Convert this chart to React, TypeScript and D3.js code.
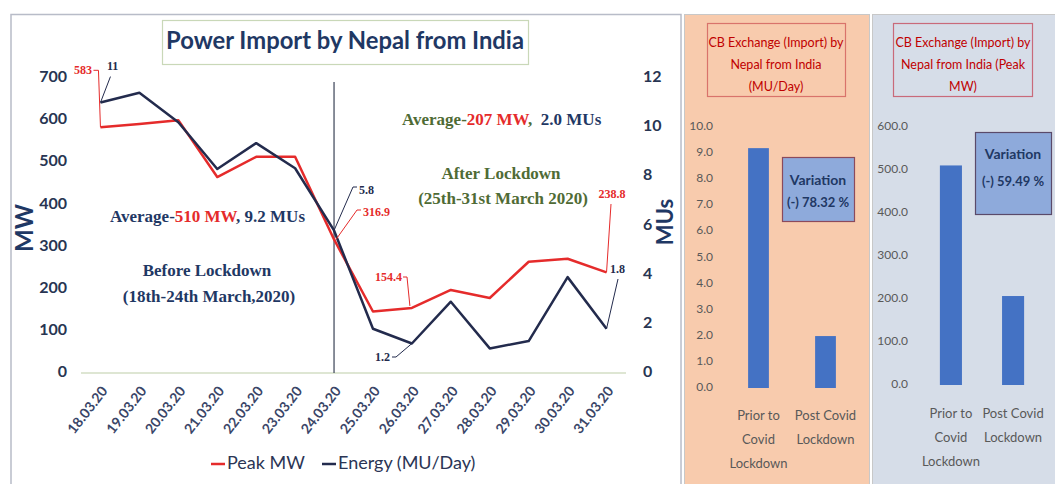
import React from 'react';
import * as d3 from 'd3';

const dates = ['18.03.20','19.03.20','20.03.20','21.03.20','22.03.20','23.03.20','24.03.20','25.03.20','26.03.20','27.03.20','28.03.20','29.03.20','30.03.20','31.03.20'];
const peakMW = [583, 591, 600, 465, 513, 513, 316.9, 146, 154.4, 197, 178, 264, 271, 238.8];
const energyMU = [11, 11.4, 10.2, 8.3, 9.35, 8.33, 5.8, 1.8, 1.2, 2.9, 1.0, 1.3, 3.9, 1.8];
const mwTicks = [0, 100, 200, 300, 400, 500, 600, 700];
const muTicks = [0, 2, 4, 6, 8, 10, 12];

const barCats = ['Prior to Covid Lockdown', 'Post Covid Lockdown'];
const barMU = [9.19, 1.99];
const barMW = [510.6, 206.9];
const muBarTicks = [0, 1, 2, 3, 4, 5, 6, 7, 8, 9, 10];
const mwBarTicks = [0, 100, 200, 300, 400, 500, 600];

const NAVY = '#1f3864';
const RED = '#e52b2b';
const LINE_NAVY = '#232b4d';
const GREEN = '#4f6b35';
const GRAY = '#595959';
const SANS = 'Lato, "Open Sans", sans-serif';
const SERIF = '"Liberation Serif", "DejaVu Serif", serif';

export default function App() {
  const x = d3.scaleBand<string>().domain(dates).range([81, 626]);
  const cx = (i: number) => (x(dates[i]) as number) + x.bandwidth() / 2;
  const yL = d3.scaleLinear().domain([0, 700]).range([373, 78]);
  const yR = d3.scaleLinear().domain([0, 12]).range([373, 78]);

  const peakLine = d3.line<number>().x((_, i) => cx(i)).y(d => yL(d))(peakMW) as string;
  const energyLine = d3.line<number>().x((_, i) => cx(i)).y(d => yR(d))(energyMU) as string;

  const x1 = d3.scaleBand<string>().domain(barCats).range([725, 859]).paddingInner(0.69).paddingOuter(0.345);
  const y1 = d3.scaleLinear().domain([0, 10]).range([388, 127]);
  const x2 = d3.scaleBand<string>().domain(barCats).range([920, 1044]).paddingInner(0.645).paddingOuter(0.32);
  const y2 = d3.scaleLinear().domain([0, 600]).range([385, 127]);

  const catLines = [['Prior to', 'Covid', 'Lockdown'], ['Post Covid', 'Lockdown']];

  const vx = cx(6);
  const p = (i: number) => [cx(i), yL(peakMW[i])];
  const e = (i: number) => [cx(i), yR(energyMU[i])];

  const dl = (key: string, text: string, color: string, tx: number, ty: number, anchor: string, path: string) => (
    <g key={key}>
      <path d={path} fill="none" stroke={color} strokeWidth={1} />
      <text x={tx} y={ty} fill={color} fontFamily={SERIF} fontWeight="bold" fontSize={12} textAnchor={anchor} dominantBaseline="middle">{text}</text>
    </g>
  );

  const [p0x, p0y] = p(0);
  const [e0x, e0y] = e(0);
  const [p6x, p6y] = p(6);
  const [e6x, e6y] = e(6);
  const [p8x, p8y] = p(8);
  const [e8x, e8y] = e(8);
  const [p13x, p13y] = p(13);
  const [e13x, e13y] = e(13);

  return (
    <svg width={1055} height={484} style={{ position: 'absolute', left: 0, top: 0 }}>
      <rect x={0} y={0} width={1055} height={484} fill="#fff" />
      <rect x={11} y={14.5} width={670} height={480} fill="#fff" stroke="#b8bcc8" strokeWidth={1.5} />
      <rect x={162.5} y={20.5} width={366} height={44} fill="#fff" stroke="#c9d8b8" strokeWidth={1.2} />
      <text x={345} y={43} textAnchor="middle" dominantBaseline="middle" fill={NAVY} fontFamily={SANS} fontWeight="bold" fontSize={25} textLength={358} lengthAdjust="spacingAndGlyphs">Power Import by Nepal from India</text>

      <line x1={81} x2={626} y1={373} y2={373} stroke="#d3dec5" strokeWidth={1.5} />
      {mwTicks.map(t => (
        <text key={'l' + t} x={67} y={yL(t)} textAnchor="end" dominantBaseline="middle" fill="#283552" fontFamily={SANS} fontWeight="bold" fontSize={16}>{t}</text>
      ))}
      {muTicks.map(t => (
        <text key={'r' + t} x={643} y={yR(t)} textAnchor="start" dominantBaseline="middle" fill="#283552" fontFamily={SANS} fontWeight="bold" fontSize={16}>{t}</text>
      ))}
      <text transform="translate(27,228) rotate(-90)" textAnchor="middle" dominantBaseline="middle" fill={NAVY} fontFamily={SANS} fontWeight="bold" fontSize={24}>MW</text>
      <text transform="translate(667,222) rotate(-90)" textAnchor="middle" dominantBaseline="middle" fill={NAVY} fontFamily={SANS} fontWeight="bold" fontSize={22}>MUs</text>

      {dates.map((d, i) => (
        <text key={d} transform={`translate(${cx(i) + 5},${389}) rotate(-52)`} textAnchor="end" dominantBaseline="middle" fill="#3a4668" fontFamily={SANS} fontWeight="bold" fontSize={14}>{d}</text>
      ))}

      <line x1={vx} x2={vx} y1={82} y2={373} stroke="#3a4256" strokeWidth={1.2} />

      <path d={peakLine} fill="none" stroke={RED} strokeWidth={2.5} strokeLinejoin="round" />
      <path d={energyLine} fill="none" stroke={LINE_NAVY} strokeWidth={2.5} strokeLinejoin="round" />

      {dl('a', String(peakMW[0]), RED, 92, p0y - 56, 'end', `M${p0x - 7},${p0y - 57} L${p0x - 2},${p0y - 57} L${p0x},${p0y}`)}
      {dl('b', String(energyMU[0]), LINE_NAVY, 107, e0y - 35, 'start', `M${e0x + 10},${e0y - 26} L${e0x},${e0y}`)}
      {dl('c', String(energyMU[6]), LINE_NAVY, 359, 191, 'start', `M${357},${187} L${353},${187} L${e6x},${e6y}`)}
      {dl('d', String(peakMW[6]), RED, 363, 213, 'start', `M${361},${210} L${357},${210} L${p6x + 2},${p6y}`)}
      {dl('e', String(peakMW[8]), RED, 402, 278, 'end', `M${403},${277} L${407},${277} L${p8x - 2},${p8y - 2}`)}
      {dl('f', String(energyMU[8]), LINE_NAVY, 390, 358, 'end', `M${392},${357} L${396},${357} L${e8x},${e8y}`)}
      {dl('g', String(peakMW[13]), RED, 612, 195, 'middle', `M${611},${204} L${p13x},${p13y}`)}
      {dl('h', String(energyMU[13]), LINE_NAVY, 610, 270, 'start', `M${618},${279} L${e13x},${e13y}`)}

      <text x={110} y={218} dominantBaseline="middle" fontFamily={SERIF} fontWeight="bold" fontSize={17} fill={NAVY}>
        Average-<tspan fill={RED}>510 MW</tspan>, 9.2 MUs
      </text>
      <text x={207} y={272} textAnchor="middle" dominantBaseline="middle" fontFamily={SERIF} fontWeight="bold" fontSize={17} fill={NAVY}>Before Lockdown</text>
      <text x={209} y={298} textAnchor="middle" dominantBaseline="middle" fontFamily={SERIF} fontWeight="bold" fontSize={17} fill={NAVY}>(18th-24th March,2020)</text>
      <text x={402} y={121} dominantBaseline="middle" fontFamily={SERIF} fontWeight="bold" fontSize={17} fill={GREEN} xmlSpace="preserve">
        Average-<tspan fill={RED}>207 MW</tspan>,  <tspan fill={NAVY}>2.0 MUs</tspan>
      </text>
      <text x={501} y={175} textAnchor="middle" dominantBaseline="middle" fontFamily={SERIF} fontWeight="bold" fontSize={17} fill={GREEN}>After Lockdown</text>
      <text x={503} y={200} textAnchor="middle" dominantBaseline="middle" fontFamily={SERIF} fontWeight="bold" fontSize={17} fill={GREEN}>(25th-31st March 2020)</text>

      <line x1={211} x2={225} y1={464} y2={464} stroke={RED} strokeWidth={2.5} />
      <text x={227} y={464} dominantBaseline="middle" fontFamily={SANS} fontSize={18} fill="#2b3555">Peak MW</text>
      <line x1={322} x2={336} y1={464} y2={464} stroke={LINE_NAVY} strokeWidth={2.5} />
      <text x={338} y={464} dominantBaseline="middle" fontFamily={SANS} fontSize={18} fill="#2b3555">Energy (MU/Day)</text>

      <rect x={684.5} y={14.5} width={185} height={480} fill="#f8cbad" stroke="#c8c8c8" strokeWidth={1} />
      <rect x={707.5} y={23.5} width={138} height={73} fill="#f8cbad" stroke="#d9736b" strokeWidth={1.2} />
      {['CB Exchange (Import) by', 'Nepal from India', '(MU/Day)'].map((t, i) => (
        <text key={t} x={776} y={44 + i * 22} textAnchor="middle" dominantBaseline="middle" fontFamily={SANS} fontSize={12.5} fill="#c00000">{t}</text>
      ))}
      {muBarTicks.map(t => (
        <text key={'m' + t} x={713} y={y1(t)} textAnchor="end" dominantBaseline="middle" fontFamily={SANS} fontSize={12} fill={GRAY}>{t.toFixed(1)}</text>
      ))}
      {barCats.map((c, i) => (
        <rect key={c} x={x1(c)} y={y1(barMU[i])} width={x1.bandwidth()} height={y1(0) - y1(barMU[i])} fill="#4472c4" />
      ))}
      {barCats.map((c, i) => catLines[i].map((l, j) => (
        <text key={c + l} x={(x1(c) as number) + x1.bandwidth() / 2} y={417 + j * 24} textAnchor="middle" dominantBaseline="middle" fontFamily={SANS} fontSize={13} fill={GRAY}>{l}</text>
      )))}
      <rect x={782.5} y={157.5} width={72} height={64} fill="#8eaadb" stroke="#8b4a5c" strokeWidth={1.2} />
      <text x={818} y={181} textAnchor="middle" dominantBaseline="middle" fontFamily={SANS} fontWeight="bold" fontSize={14} fill={NAVY}>Variation</text>
      <text x={818} y={204} textAnchor="middle" dominantBaseline="middle" fontFamily={SANS} fontWeight="bold" fontSize={13} fill={NAVY}>(-) 78.32 %</text>

      <rect x={872.5} y={14.5} width={183} height={480} fill="#d6dde8" stroke="#c8c8c8" strokeWidth={1} />
      <rect x={893.5} y={23.5} width={139} height={73} fill="#d6dde8" stroke="#c96a7a" strokeWidth={1.2} />
      {['CB Exchange (Import) by', 'Nepal from India (Peak', 'MW)'].map((t, i) => (
        <text key={t} x={963} y={44 + i * 22} textAnchor="middle" dominantBaseline="middle" fontFamily={SANS} fontSize={12.5} fill="#c00000">{t}</text>
      ))}
      {mwBarTicks.map(t => (
        <text key={'w' + t} x={908} y={y2(t)} textAnchor="end" dominantBaseline="middle" fontFamily={SANS} fontSize={12} fill={GRAY}>{t.toFixed(1)}</text>
      ))}
      {barCats.map((c, i) => (
        <rect key={c} x={x2(c)} y={y2(barMW[i])} width={x2.bandwidth()} height={y2(0) - y2(barMW[i])} fill="#4472c4" />
      ))}
      {barCats.map((c, i) => catLines[i].map((l, j) => (
        <text key={c + l + '2'} x={(x2(c) as number) + x2.bandwidth() / 2} y={415 + j * 24} textAnchor="middle" dominantBaseline="middle" fontFamily={SANS} fontSize={13} fill={GRAY}>{l}</text>
      )))}
      <rect x={975.5} y={132.5} width={76} height={82} fill="#8eaadb" stroke="#5a4a6a" strokeWidth={1.2} />
      <text x={1013} y={155} textAnchor="middle" dominantBaseline="middle" fontFamily={SANS} fontWeight="bold" fontSize={14} fill={NAVY}>Variation</text>
      <text x={1013} y={183} textAnchor="middle" dominantBaseline="middle" fontFamily={SANS} fontWeight="bold" fontSize={13} fill={NAVY}>(-) 59.49 %</text>
    </svg>
  );
}
